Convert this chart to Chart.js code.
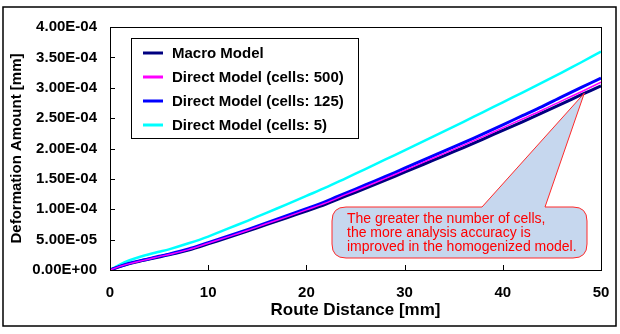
<!DOCTYPE html>
<html lang="en">
<head>
    <meta charset="UTF-8">
    <title>Deformation Amount vs Route Distance</title>
    <script src="https://cdn.jsdelivr.net/npm/chart.js"></script>
    <style>
        body {
            margin: 0;
            padding: 0;
            background: #ffffff;
        }
        #chart {
            display: block;
        }
    </style>
</head>
<body>
    <canvas id="chart" width="620" height="334"></canvas>

    <script>
        // route distance [mm]
        const distance = [0, 1, 2, 3, 4, 5, 6, 8, 10, 12, 14, 16, 18, 20, 22, 24, 26, 28, 30, 32, 34, 36, 38, 40, 42, 44, 46, 48, 50];

        // deformation amounts, in units of 1E-05 mm
        const macroModel = [0, 0.55, 1.05, 1.45, 1.8, 2.15, 2.5, 3.3, 4.3, 5.35, 6.4, 7.5, 8.6, 9.7, 10.85, 12.15, 13.45, 14.75, 16.1, 17.45, 18.8, 20.15, 21.55, 23.0, 24.4, 25.85, 27.35, 28.85, 30.3];
        const cells500 = [0, 0.6, 1.05, 1.45, 1.8, 2.2, 2.55, 3.35, 4.4, 5.45, 6.5, 7.65, 8.75, 9.9, 11.05, 12.4, 13.7, 15.05, 16.4, 17.8, 19.15, 20.55, 21.95, 23.4, 24.85, 26.3, 27.85, 29.35, 30.9];
        const cells125 = [0, 0.6, 1.1, 1.5, 1.85, 2.25, 2.6, 3.45, 4.5, 5.55, 6.65, 7.8, 8.95, 10.1, 11.3, 12.65, 14.0, 15.35, 16.75, 18.15, 19.55, 20.95, 22.4, 23.9, 25.4, 26.9, 28.5, 30.05, 31.6];
        const cells5 = [0, 0.9, 1.6, 2.15, 2.6, 3.0, 3.4, 4.4, 5.5, 6.8, 8.1, 9.45, 10.8, 12.2, 13.6, 15.1, 16.6, 18.15, 19.7, 21.25, 22.8, 24.4, 26.0, 27.6, 29.2, 30.85, 32.5, 34.2, 35.95];

        const seriesNames = ["Macro Model", "Direct Model (cells: 500)", "Direct Model (cells: 125)", "Direct Model (cells: 5)"];
        const noteLines = ["The greater the number of cells,", "the more analysis accuracy is", "improved in the homogenized model."];
        // where the callout points to, in data units
        const notePoint = { x: 48.3, y: 2.91e-4 };

        function toPoints(values) {
            return values.map((v, i) => ({ x: distance[i], y: v * 1e-5 }));
        }

        function fmtExp(v) {
            if (Math.abs(v) < 1e-12) return "0.00E+00";
            const parts = v.toExponential(2).split("e");
            const e = parseInt(parts[1], 10);
            return parts[0] + "E" + (e < 0 ? "-" : "+") + String(Math.abs(e)).padStart(2, "0");
        }

        // frame, plot box, inward ticks, legend and callout
        const decorations = {
            id: "decorations",
            beforeDraw(chart) {
                const ctx = chart.ctx;
                ctx.save();
                ctx.fillStyle = "#ffffff";
                ctx.fillRect(0, 0, chart.width, chart.height);
                ctx.strokeStyle = "#000000";
                ctx.lineWidth = 1.5;
                ctx.strokeRect(3, 7, 613, 319);
                ctx.restore();
            },
            afterDatasetsDraw(chart) {
                const ctx = chart.ctx;
                const area = chart.chartArea;
                const xs = chart.scales.x;
                const ys = chart.scales.y;
                ctx.save();

                // plot border
                ctx.strokeStyle = "#000000";
                ctx.lineWidth = 1;
                ctx.strokeRect(Math.round(area.left) + 0.5, Math.round(area.top) + 0.5,
                    Math.round(area.right - area.left), Math.round(area.bottom - area.top));

                // inward tick marks
                ctx.beginPath();
                xs.ticks.forEach(t => {
                    const px = Math.round(xs.getPixelForValue(t.value)) + 0.5;
                    ctx.moveTo(px, area.bottom);
                    ctx.lineTo(px, area.bottom - 5);
                });
                ys.ticks.forEach(t => {
                    const py = Math.round(ys.getPixelForValue(t.value)) + 0.5;
                    ctx.moveTo(area.left, py);
                    ctx.lineTo(area.left + 5, py);
                });
                ctx.stroke();

                // legend
                const lx = 131, ly = 38, lw = 227, lh = 100;
                ctx.fillStyle = "#ffffff";
                ctx.fillRect(lx, ly, lw, lh);
                ctx.strokeRect(lx + 0.5, ly + 0.5, lw, lh);
                ctx.font = "bold 15px Arial, 'Liberation Sans', sans-serif";
                ctx.textBaseline = "middle";
                ctx.textAlign = "left";
                chart.data.datasets.forEach((ds, i) => {
                    const ry = 53 + i * 24;
                    ctx.strokeStyle = ds.borderColor;
                    ctx.lineWidth = 3;
                    ctx.beginPath();
                    ctx.moveTo(143, ry);
                    ctx.lineTo(163, ry);
                    ctx.stroke();
                    ctx.fillStyle = "#000000";
                    ctx.fillText(ds.label, 172, ry + 1);
                });

                // callout
                const tipX = xs.getPixelForValue(notePoint.x);
                const tipY = ys.getPixelForValue(notePoint.y);
                const bx = 332, by = 207, bw = 255, bh = 51, r = 14;
                ctx.beginPath();
                ctx.moveTo(bx + r, by);
                ctx.lineTo(482, by);
                ctx.lineTo(tipX, tipY);
                ctx.lineTo(545, by);
                ctx.lineTo(bx + bw - r, by);
                ctx.quadraticCurveTo(bx + bw, by, bx + bw, by + r);
                ctx.lineTo(bx + bw, by + bh - r);
                ctx.quadraticCurveTo(bx + bw, by + bh, bx + bw - r, by + bh);
                ctx.lineTo(bx + r, by + bh);
                ctx.quadraticCurveTo(bx, by + bh, bx, by + bh - r);
                ctx.lineTo(bx, by + r);
                ctx.quadraticCurveTo(bx, by, bx + r, by);
                ctx.closePath();
                ctx.fillStyle = "#c6d7ee";
                ctx.fill();
                ctx.strokeStyle = "#ff2a2a";
                ctx.lineWidth = 1;
                ctx.stroke();

                ctx.fillStyle = "#ff0000";
                ctx.font = "14px Arial, 'Liberation Sans', sans-serif";
                noteLines.forEach((line, i) => {
                    ctx.fillText(line, 347, 219 + i * 14);
                });

                ctx.restore();
            }
        };

        new Chart(document.getElementById("chart"), {
            type: "line",
            data: {
                datasets: [
                    { label: seriesNames[0], data: toPoints(macroModel), borderColor: "#000080", borderWidth: 3, order: 2 },
                    { label: seriesNames[1], data: toPoints(cells500), borderColor: "#ff00ff", borderWidth: 1.5, order: 0 },
                    { label: seriesNames[2], data: toPoints(cells125), borderColor: "#0000ff", borderWidth: 3, order: 1 },
                    { label: seriesNames[3], data: toPoints(cells5), borderColor: "#00ffff", borderWidth: 2.5, order: 3 }
                ]
            },
            options: {
                responsive: false,
                animation: false,
                events: [],
                layout: { padding: { left: 0, right: 19, top: 27, bottom: 0 } },
                elements: {
                    point: { radius: 0 },
                    line: { tension: 0.3, fill: false }
                },
                plugins: {
                    legend: { display: false },
                    tooltip: { enabled: false }
                },
                scales: {
                    x: {
                        type: "linear",
                        min: 0,
                        max: 50,
                        afterFit: scale => { scale.height = 64; },
                        grid: { display: false },
                        border: { display: false },
                        ticks: {
                            stepSize: 10,
                            padding: 6,
                            maxRotation: 0,
                            color: "#000000",
                            font: { family: "Arial, 'Liberation Sans', sans-serif", size: 15, weight: "bold" }
                        },
                        title: {
                            display: true,
                            text: "Route Distance [mm]",
                            color: "#000000",
                            padding: { top: 0, bottom: 13 },
                            font: { family: "Arial, 'Liberation Sans', sans-serif", size: 17, weight: "bold" }
                        }
                    },
                    y: {
                        min: 0,
                        max: 4e-4,
                        afterFit: scale => { scale.width = 110; },
                        grid: { display: false },
                        border: { display: false },
                        ticks: {
                            stepSize: 5e-5,
                            padding: 5,
                            color: "#000000",
                            callback: v => fmtExp(v),
                            font: { family: "Arial, 'Liberation Sans', sans-serif", size: 15, weight: "bold" }
                        },
                        title: {
                            display: true,
                            text: "Deformation Amount [mm]",
                            color: "#000000",
                            padding: { top: 8, bottom: 0 },
                            font: { family: "Arial, 'Liberation Sans', sans-serif", size: 15, weight: "bold" }
                        }
                    }
                }
            },
            plugins: [decorations]
        });
    </script>
</body>
</html>
